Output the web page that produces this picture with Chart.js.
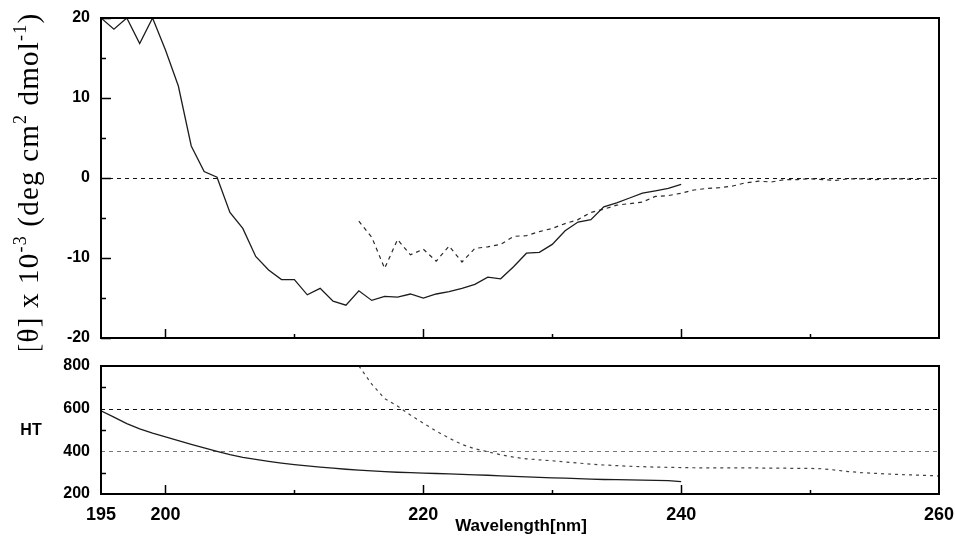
<!DOCTYPE html>
<html>
<head>
<meta charset="utf-8">
<script src="https://cdn.jsdelivr.net/npm/chart.js@4.4.1/dist/chart.umd.min.js"></script>
<style>
  html, body { margin: 0; padding: 0; background: #fff; }
  #wrap { position: relative; width: 955px; height: 540px; }
  #cdChart { position: absolute; left: 0; top: 0; }
  #htChart { position: absolute; left: 0; top: 350px; }
</style>
</head>
<body>
<div id="wrap">
  <canvas id="cdChart" width="955" height="350"></canvas>
  <canvas id="htChart" width="955" height="190"></canvas>
</div>
<script>
// scan A: 195-240 nm, scan B: 215-260 nm (1 nm steps)
const scanAWavelengths = [195, 196, 197, 198, 199, 200, 201, 202, 203, 204, 205, 206, 207, 208, 209, 210,
  211, 212, 213, 214, 215, 216, 217, 218, 219, 220, 221, 222, 223, 224, 225, 226, 227, 228, 229, 230,
  231, 232, 233, 234, 235, 236, 237, 238, 239, 240];
const scanBWavelengths = [215, 216, 217, 218, 219, 220, 221, 222, 223, 224, 225, 226, 227, 228, 229, 230,
  231, 232, 233, 234, 235, 236, 237, 238, 239, 240, 241, 242, 243, 244, 245, 246, 247, 248, 249, 250,
  251, 252, 253, 254, 255, 256, 257, 258, 259, 260];

// mean residue ellipticity, x 10^-3
const ellipticityA = [20, 18.6, 20, 16.8, 20, 16.0, 11.5, 4.0, 0.8, 0.1, -4.3, -6.3, -9.8, -11.5, -12.7, -12.7,
  -14.6, -13.8, -15.4, -15.9, -14.1, -15.3, -14.8, -14.9, -14.5, -15.0, -14.5, -14.2, -13.8, -13.3, -12.4, -12.6,
  -11.1, -9.4, -9.3, -8.3, -6.6, -5.5, -5.2, -3.6, -3.1, -2.5, -1.9, -1.6, -1.3, -0.8];
const ellipticityB = [-5.4, -7.4, -11.3, -7.7, -9.6, -8.9, -10.4, -8.5, -10.5, -8.8, -8.6, -8.3, -7.3, -7.2, -6.7, -6.3,
  -5.7, -5.2, -4.3, -3.9, -3.4, -3.2, -3.0, -2.3, -2.2, -1.9, -1.5, -1.3, -1.2, -1.0, -0.6, -0.4,
  -0.5, -0.2, -0.2, -0.1, -0.2, -0.3, -0.1, -0.1, -0.2, -0.1, -0.1, -0.2, -0.1, 0];

// photomultiplier high tension (V)
const htA = [590, 560, 530, 505, 485, 468, 450, 433, 416, 400, 385, 372, 362, 353, 345, 338,
  332, 326, 321, 316, 312, 308, 305, 302, 300, 298, 296, 294, 292, 290, 288, 285,
  283, 280, 278, 276, 274, 272, 270, 268, 267, 266, 265, 264, 263, 258];
const htB = [800, 715, 647, 612, 570, 532, 495, 462, 432, 412, 398, 384, 373, 365, 360, 356,
  350, 345, 340, 336, 333, 330, 328, 326, 325, 324, 323, 322, 322, 322, 322, 322,
  321, 321, 320, 320, 318, 312, 305, 300, 297, 294, 291, 289, 287, 285];

const xLabelTicks = [195, 200, 220, 240, 260];
const xMajorTicks = [200, 220, 240];
const xMinorTicks = [210, 230, 250];
const cdLabelTicks = [-20, -10, 0, 10, 20];
const cdMinorTicks = [-15, -5, 5, 15];
const htLabelTicks = [200, 400, 600, 800];
const htMinorTicks = [300, 500, 700];
const cdRefLines = [0];
const htRefLines = [600, 400];

function toPoints(xs, ys) {
  return xs.map((x, i) => ({ x: x, y: ys[i] }));
}

// keep the plot box fixed: no extra room for half-labels at the ends
function fixWidth(s) {
  s.width = 101;
  s.paddingTop = 0;
  s.paddingBottom = 0;
}
function fixHeight(s) {
  s.height = 46;
  s.paddingLeft = 0;
  s.paddingRight = 0;
}

const tickFont = { family: 'Liberation Sans', size: 16, weight: 'bold' };

// box, inward tick marks and dashed reference lines
const framePlugin = {
  id: 'frame',
  beforeDatasetsDraw(chart, args, opts) {
    const { ctx, chartArea: a } = chart;
    const y = chart.scales.y;
    ctx.save();
    ctx.lineWidth = 1;
    (opts.refLines || []).forEach((v, i) => {
      const py = Math.round(y.getPixelForValue(v)) + 0.5;
      ctx.strokeStyle = opts.refColors[i];
      ctx.setLineDash([4, 4]);
      ctx.beginPath();
      ctx.moveTo(a.left, py);
      ctx.lineTo(a.right, py);
      ctx.stroke();
    });
    ctx.restore();
  },
  afterDatasetsDraw(chart, args, opts) {
    const { ctx, chartArea: a } = chart;
    const x = chart.scales.x, y = chart.scales.y;
    ctx.save();
    ctx.strokeStyle = '#000';
    ctx.lineWidth = 1.5;
    ctx.beginPath();
    opts.yMajor.forEach(v => {
      const py = Math.round(y.getPixelForValue(v)) + 0.5;
      ctx.moveTo(a.left, py); ctx.lineTo(a.left + 10, py);
    });
    opts.yMinor.forEach(v => {
      const py = Math.round(y.getPixelForValue(v)) + 0.5;
      ctx.moveTo(a.left, py); ctx.lineTo(a.left + 5, py);
    });
    xMajorTicks.forEach(v => {
      const px = Math.round(x.getPixelForValue(v)) + 0.5;
      ctx.moveTo(px, a.bottom); ctx.lineTo(px, a.bottom - 9);
    });
    xMinorTicks.forEach(v => {
      const px = Math.round(x.getPixelForValue(v)) + 0.5;
      ctx.moveTo(px, a.bottom); ctx.lineTo(px, a.bottom - 4);
    });
    ctx.stroke();
    ctx.lineWidth = 2;
    ctx.strokeRect(a.left, a.top, a.right - a.left, a.bottom - a.top);
    ctx.restore();
  }
};

// free text: plain labels and the rotated ellipticity title with superscripts
const textPlugin = {
  id: 'texts',
  afterDraw(chart, args, opts) {
    const ctx = chart.ctx;
    ctx.save();
    ctx.fillStyle = '#000';
    (opts.labels || []).forEach(l => {
      ctx.font = l.font;
      ctx.textAlign = 'center';
      ctx.textBaseline = 'middle';
      ctx.fillText(l.text, l.x, l.y);
    });
    if (opts.rotated) {
      const r = opts.rotated;
      const big = r.size + 'px "Liberation Serif"';
      const small = Math.round(r.size * 0.62) + 'px "Liberation Serif"';
      ctx.letterSpacing = r.spacing + 'px';
      let total = 0;
      r.parts.forEach(p => {
        ctx.font = p.sup ? small : big;
        total += ctx.measureText(p.t).width;
      });
      ctx.translate(r.x, r.y);
      ctx.rotate(-Math.PI / 2);
      ctx.textAlign = 'left';
      ctx.textBaseline = 'alphabetic';
      let pos = -total / 2;
      r.parts.forEach(p => {
        ctx.font = p.sup ? small : big;
        ctx.fillText(p.t, pos, p.sup ? -r.size * 0.42 : 0);
        pos += ctx.measureText(p.t).width;
      });
    }
    ctx.restore();
  }
};

const solidStyle = { borderColor: '#1c1c1c', borderWidth: 1.3, pointRadius: 0, fill: false, tension: 0 };
const dashedStyle = { borderColor: '#2a2a2a', borderWidth: 1.2, borderDash: [4, 4], pointRadius: 0, fill: false, tension: 0 };

new Chart(document.getElementById('cdChart'), {
  type: 'line',
  data: {
    datasets: [
      Object.assign({ data: toPoints(scanAWavelengths, ellipticityA) }, solidStyle),
      Object.assign({ data: toPoints(scanBWavelengths, ellipticityB) }, dashedStyle)
    ]
  },
  options: {
    responsive: false,
    animation: false,
    layout: { padding: { top: 18, right: 16, bottom: 12, left: 0 } },
    scales: {
      x: { type: 'linear', min: 195, max: 260, display: false },
      y: {
        min: -20, max: 20,
        afterFit: fixWidth,
        afterBuildTicks: s => { s.ticks = cdLabelTicks.map(v => ({ value: v })); },
        grid: { display: false, drawTicks: false },
        border: { display: false },
        ticks: { font: tickFont, color: '#000', padding: 11 }
      }
    },
    plugins: {
      legend: { display: false },
      tooltip: { enabled: false },
      frame: { yMajor: cdLabelTicks, yMinor: cdMinorTicks, refLines: cdRefLines, refColors: ['#111'] },
      texts: {
        rotated: {
          x: 38, y: 183, size: 29, spacing: 1.2,
          parts: [
            { t: '[\u03b8] x 10' }, { t: '-3', sup: true },
            { t: ' (deg cm' }, { t: '2', sup: true },
            { t: ' dmol' }, { t: '-1', sup: true }, { t: ')' }
          ]
        }
      }
    }
  },
  plugins: [framePlugin, textPlugin]
});

new Chart(document.getElementById('htChart'), {
  type: 'line',
  data: {
    datasets: [
      Object.assign({ data: toPoints(scanAWavelengths, htA) }, solidStyle),
      Object.assign({ data: toPoints(scanBWavelengths, htB) }, dashedStyle, { borderColor: '#444', borderDash: [3, 4] })
    ]
  },
  options: {
    responsive: false,
    animation: false,
    layout: { padding: { top: 16, right: 16, bottom: 0, left: 0 } },
    scales: {
      x: {
        type: 'linear', min: 195, max: 260,
        afterFit: fixHeight,
        afterBuildTicks: s => { s.ticks = xLabelTicks.map(v => ({ value: v })); },
        grid: { display: false, drawTicks: false },
        border: { display: false },
        ticks: { font: { family: 'Liberation Sans', size: 18, weight: 'bold' }, color: '#000', padding: 10, autoSkip: false, maxRotation: 0 }
      },
      y: {
        min: 200, max: 800,
        afterFit: fixWidth,
        afterBuildTicks: s => { s.ticks = htLabelTicks.map(v => ({ value: v })); },
        grid: { display: false, drawTicks: false },
        border: { display: false },
        ticks: { font: tickFont, color: '#000', padding: 11 }
      }
    },
    plugins: {
      legend: { display: false },
      tooltip: { enabled: false },
      frame: { yMajor: [], yMinor: htMinorTicks, refLines: htRefLines, refColors: ['#111', '#777'] },
      texts: {
        labels: [
          { text: 'HT', x: 31, y: 81, font: 'bold 16px "Liberation Sans"' },
          { text: 'Wavelength[nm]', x: 521, y: 176, font: 'bold 17px "Liberation Sans"' }
        ]
      }
    }
  },
  plugins: [framePlugin, textPlugin]
});
</script>
</body>
</html>
